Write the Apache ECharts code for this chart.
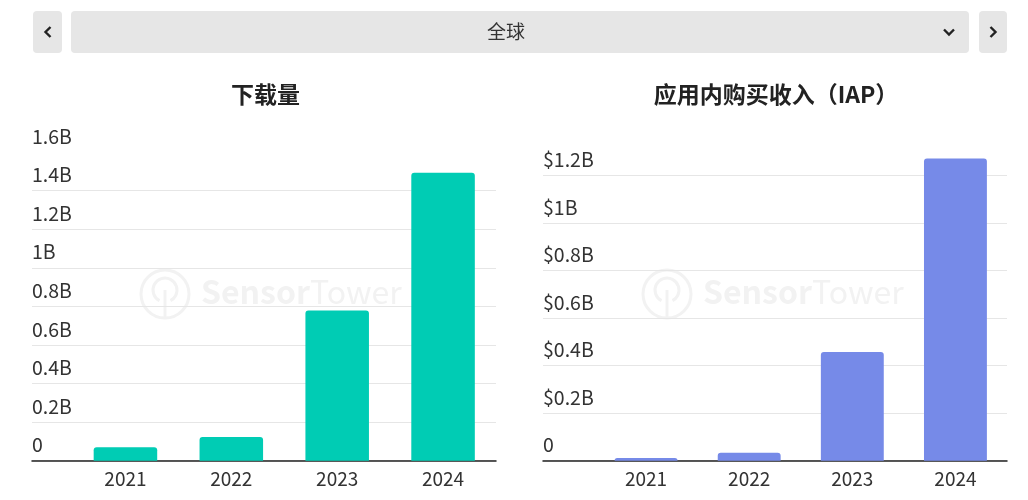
<!DOCTYPE html>
<html>
<head>
<meta charset="utf-8">
<script src="https://cdn.jsdelivr.net/npm/echarts@6/dist/echarts.min.js"></script>
<style>
html,body{margin:0;padding:0;background:#fff;}
#chart{width:1028px;height:500px;}
</style>
</head>
<body>
<div id="chart"></div>
<script>
// ---- data ----
const categories = ['2021', '2022', '2023', '2024'];
const downloads = [0.07, 0.123, 0.779, 1.493];      // billions
const iapRevenue = [0.011, 0.034, 0.458, 1.273];   // billions USD
const regionLabel = '全球';
const titleDownloads = '下载量';
const titleIAP = '应用内购买收入（IAP）';
const watermarkA = 'Sensor';
const watermarkB = 'Tower';

const FONT = '"Noto Sans CJK SC", "Noto Sans", sans-serif';
const TEXT = '#333333';
const GRIDLINE = '#e6e6e6';
const WM = '#f2f2f2';

function fmtB(v, prefix) {
  if (v === 0) return '0';
  return prefix + (+v.toFixed(1)) + 'B';
}

const chart = echarts.init(document.getElementById('chart'), null, {renderer: 'canvas'});

const gridTop = 152, gridHeight = 308.7;

function labelYAxis(gridIndex, max, prefix) {
  return {
    type: 'value', gridIndex, min: 0, max, interval: 0.2,
    axisLine: {show: false}, axisTick: {show: false},
    splitLine: {show: true, showMaxLine: false, lineStyle: {color: GRIDLINE, width: 1}},
    axisLabel: {
      inside: true, margin: 0, showMaxLabel: prefix ? false : true,
      verticalAlign: 'bottom', padding: [0, 0, 6, 0],
      color: TEXT, fontSize: 19.5, fontFamily: FONT,
      formatter: v => (v > max - 1e-9 && prefix) ? '' : fmtB(v, prefix)
    }
  };
}
function barYAxis(gridIndex, max) {
  return {
    type: 'value', gridIndex, min: 0, max, interval: 0.2,
    show: false, splitLine: {show: false}
  };
}

function watermark(cx, cy, tx) {
  return [
    {type: 'circle', shape: {cx: cx, cy: cy, r: 24}, style: {fill: null, stroke: WM, lineWidth: 3}, z: 0},
    {type: 'arc', shape: {cx: cx, cy: cy - 4, r: 12, startAngle: Math.PI * 0.65, endAngle: Math.PI * 0.35},
     style: {fill: null, stroke: WM, lineWidth: 3}, z: 0},
    {type: 'line', shape: {x1: cx, y1: cy - 4, x2: cx, y2: cy + 23}, style: {stroke: WM, lineWidth: 3}, z: 0},
    {type: 'text', x: tx, y: cy - 2, z: 0, style: {
      text: '{a|' + watermarkA + '}{b|' + watermarkB + '}',
      textAlign: 'left', textVerticalAlign: 'middle',
      rich: {
        a: {fill: WM, fontSize: 32, fontWeight: 'bold', fontFamily: FONT},
        b: {fill: WM, fontSize: 32, fontWeight: 'normal', fontFamily: FONT}
      }
    }}
  ];
}

const option = {
  animation: false,
  backgroundColor: '#ffffff',
  grid: [
    {left: 32, width: 464, top: gridTop, height: gridHeight},
    {left: 72.5, width: 423.5, top: gridTop, height: gridHeight},
    {left: 543, width: 464, top: gridTop, height: gridHeight},
    {left: 594.5, width: 412.5, top: gridTop, height: gridHeight}
  ],
  xAxis: [
    {type: 'category', gridIndex: 0, data: [''], axisTick: {show: false}, axisLabel: {show: false},
     axisLine: {show: true, lineStyle: {color: '#222', width: 1.5}}},
    {type: 'category', gridIndex: 1, data: categories, axisTick: {show: false},
     axisLine: {show: false},
     axisLabel: {color: TEXT, fontSize: 19, fontFamily: FONT, margin: 9}},
    {type: 'category', gridIndex: 2, data: [''], axisTick: {show: false}, axisLabel: {show: false},
     axisLine: {show: true, lineStyle: {color: '#222', width: 1.5}}},
    {type: 'category', gridIndex: 3, data: categories, axisTick: {show: false},
     axisLine: {show: false},
     axisLabel: {color: TEXT, fontSize: 19, fontFamily: FONT, margin: 9}}
  ],
  yAxis: [
    labelYAxis(0, 1.6, ''),
    barYAxis(1, 1.6),
    labelYAxis(2, 1.3, '$'),
    barYAxis(3, 1.3)
  ],
  series: [
    {type: 'bar', xAxisIndex: 1, yAxisIndex: 1, data: downloads, barCategoryGap: '40%',
     itemStyle: {color: '#00CCB4', borderRadius: [3, 3, 0, 0]}, z: 3},
    {type: 'bar', xAxisIndex: 3, yAxisIndex: 3, data: iapRevenue, barCategoryGap: '39%',
     itemStyle: {color: '#768AE8', borderRadius: [3, 3, 0, 0]}, z: 3}
  ],
  graphic: [
    // top selector bar
    {type: 'rect', shape: {x: 33, y: 11, width: 29, height: 42, r: 4}, style: {fill: '#e6e6e6'}},
    {type: 'rect', shape: {x: 71, y: 11, width: 898, height: 42, r: 4}, style: {fill: '#e6e6e6'}},
    {type: 'rect', shape: {x: 979, y: 11, width: 28, height: 42, r: 4}, style: {fill: '#e6e6e6'}},
    {type: 'polyline', shape: {points: [[50.5, 27], [45.5, 32], [50.5, 37]]},
     style: {stroke: '#222', lineWidth: 2.4, fill: null}},
    {type: 'polyline', shape: {points: [[944, 29.5], [949, 34.5], [954, 29.5]]},
     style: {stroke: '#222', lineWidth: 2.4, fill: null}},
    {type: 'polyline', shape: {points: [[990.5, 27], [995.5, 32], [990.5, 37]]},
     style: {stroke: '#222', lineWidth: 2.4, fill: null}},
    {type: 'text', x: 506, y: 32, style: {text: regionLabel, fill: '#333', font: '19px ' + FONT,
     textAlign: 'center', textVerticalAlign: 'middle'}},
    // titles
    {type: 'text', x: 265.5, y: 94, style: {text: titleDownloads, fill: '#222', font: 'bold 23px ' + FONT,
     textAlign: 'center', textVerticalAlign: 'middle'}},
    {type: 'text', x: 776, y: 94, style: {text: titleIAP, fill: '#222', font: 'bold 23px ' + FONT,
     textAlign: 'center', textVerticalAlign: 'middle'}}
  ].concat(watermark(165, 294, 201), watermark(667, 294, 703))
};
chart.setOption(option);
</script>
</body>
</html>
